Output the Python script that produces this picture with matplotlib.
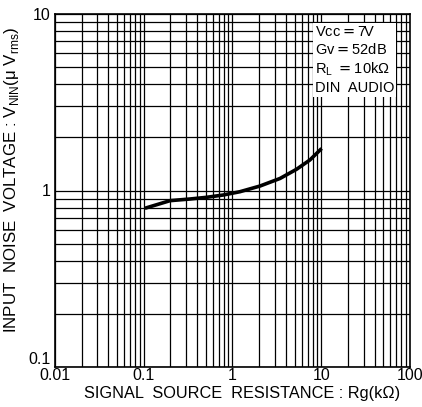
import numpy as np
import matplotlib
matplotlib.use('Agg')
import matplotlib.pyplot as plt
from matplotlib.ticker import LogLocator, NullFormatter, FixedLocator, FixedFormatter

plt.rcParams['font.family'] = ['Liberation Sans', 'DejaVu Sans']

# curve
rg_kohm = [0.103, 0.198, 0.332, 0.512, 0.787, 1.21, 2.04, 3.43, 5.28, 7.46, 10.1]
vnin_uv = [0.793, 0.876, 0.895, 0.915, 0.943, 0.984, 1.06, 1.17, 1.32, 1.49, 1.73]

x_ticks = [0.01, 0.1, 1, 10, 100]
x_labels = ['0.01', '0.1', '1', '10', '100']
y_ticks = [0.1, 1, 10]
y_labels = ['0.1', '1', '10']

conditions = 'Vcc$=$7V\nGv$=$52dB\nR$_\\mathregular{L}$ $=$10kΩ\nDIN  AUDIO'

fig = plt.figure(figsize=(4.22, 4.07), dpi=100)
ax = fig.add_axes([55/422, 1-367/407, 355/422, 353/407])

ax.set_xscale('log')
ax.set_yscale('log')
ax.set_xlim(0.01, 100)
ax.set_ylim(0.1, 10)

ax.xaxis.set_major_locator(FixedLocator(x_ticks))
ax.xaxis.set_major_formatter(FixedFormatter(x_labels))
ax.yaxis.set_major_locator(FixedLocator(y_ticks))
ax.yaxis.set_major_formatter(FixedFormatter(y_labels))
ax.xaxis.set_minor_locator(LogLocator(base=10, subs=np.arange(2, 10)))
ax.yaxis.set_minor_locator(LogLocator(base=10, subs=np.arange(2, 10)))
ax.xaxis.set_minor_formatter(NullFormatter())
ax.yaxis.set_minor_formatter(NullFormatter())

ax.grid(True, which='both', color='black', lw=0.9)
ax.tick_params(which='both', length=0, labelsize=11.5)
ax.tick_params(axis='x', pad=1)
ax.tick_params(axis='y', pad=3)
for s in ax.spines.values():
    s.set_linewidth(1.2)

# the bottom y label sits just above the corner, as in the reference
fig.canvas.draw()
ax.yaxis.get_majorticklabels()[0].set_va('bottom')

ax.plot(rg_kohm, vnin_uv, color='black', lw=2.6, solid_capstyle='butt', zorder=3)

ax.text(315, 407-60, conditions, transform=None, fontsize=10.5, va='center', ha='left',
        linespacing=1.25, zorder=4,
        bbox=dict(facecolor='white', edgecolor='none', pad=1.5))

ax.set_xlabel('SIGNAL  SOURCE  RESISTANCE : Rg(kΩ)', fontsize=11.7)
ax.set_ylabel('INPUT  NOISE  VOLTAGE : V$_\\mathregular{NIN}$(μ V$_\\mathregular{rms}$)', fontsize=12.2)
ax.xaxis.set_label_coords(0.527, -0.055)
ax.yaxis.set_label_coords(-0.097, 0.53)

plt.savefig('out.png', dpi=100)
